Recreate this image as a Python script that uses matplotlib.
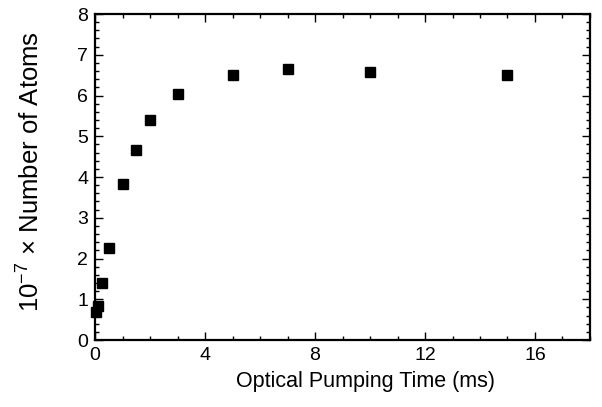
import matplotlib
matplotlib.use("Agg")
import matplotlib.pyplot as plt
from matplotlib.ticker import MultipleLocator

plt.rcParams['font.family'] = ['Liberation Sans', 'DejaVu Sans']
plt.rcParams['mathtext.fontset'] = 'custom'
plt.rcParams['mathtext.rm'] = 'Liberation Sans'
plt.rcParams['mathtext.it'] = 'Liberation Sans:italic'

# pumping time (ms) and atom number (x 1e7)
time_ms = [0.05, 0.1, 0.25, 0.5, 1.0, 1.5, 2.0, 3.0, 5.0, 7.0, 10.0, 15.0]
atoms = [0.68, 0.83, 1.41, 2.25, 3.82, 4.66, 5.40, 6.03, 6.50, 6.65, 6.57, 6.50]

fig = plt.figure(figsize=(6.02, 4.07), dpi=100)
ax = fig.add_axes([0.158, 0.1646, 0.822, 0.801])

ax.plot(time_ms, atoms, 's', color='black', markersize=7, clip_on=False)

ax.set_xlim(0, 18)
ax.set_ylim(0, 8)
ax.xaxis.set_major_locator(MultipleLocator(4))
ax.xaxis.set_minor_locator(MultipleLocator(1))
ax.yaxis.set_major_locator(MultipleLocator(1))
ax.yaxis.set_minor_locator(MultipleLocator(0.2))
ax.tick_params(which='both', direction='in', top=True, right=True, labelsize=14, width=1)
ax.tick_params(which='major', length=6, pad=5)
ax.tick_params(which='minor', length=3)
for s in ax.spines.values():
    s.set_linewidth(1.6)

ax.set_xlabel('Optical Pumping Time (ms)', fontsize=15.5, labelpad=3)
ax.xaxis.set_label_coords(0.547, -0.095)
ax.set_ylabel(r'10$^{\mathrm{-7}}$ $\times$ Number of Atoms', fontsize=18.5)
ax.yaxis.set_label_coords(-0.102, 0.518)

fig.savefig('out.png', dpi=100)
